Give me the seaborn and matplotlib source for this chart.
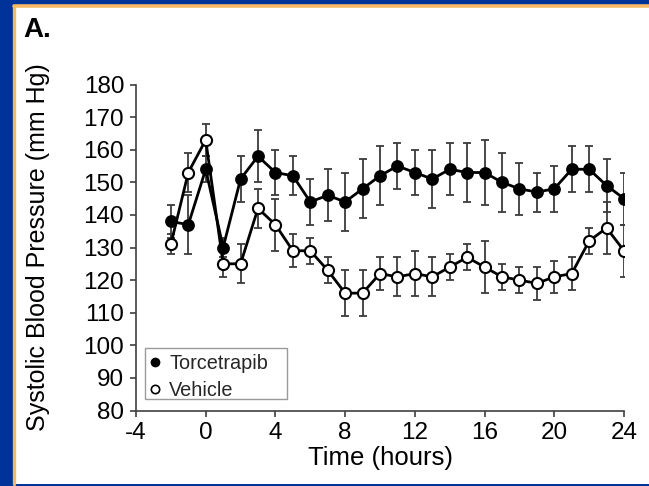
import matplotlib
matplotlib.use("Agg")
import matplotlib.pyplot as plt
from matplotlib.patches import Rectangle
from matplotlib.lines import Line2D
import seaborn as sns
import pandas as pd

# ---- data ----
times = [-2, -1, 0, 1, 2, 3, 4, 5, 6, 7, 8, 9, 10, 11, 12, 13, 14, 15, 16,
         17, 18, 19, 20, 21, 22, 23, 24]
torcetrapib = [138, 137, 154, 130, 151, 158, 153, 152, 144, 146, 144, 148, 152,
               155, 153, 151, 154, 153, 153, 150, 148, 147, 148, 154, 154, 149, 145]
torcetrapib_err = [5, 9, 4, 3, 7, 8, 7, 6, 7, 8, 9, 9, 9, 7, 7, 9, 8, 9, 10,
                   9, 8, 6, 7, 7, 7, 8, 8]
vehicle = [131, 153, 163, 125, 125, 142, 137, 129, 129, 123, 116, 116, 122,
           121, 122, 121, 124, 127, 124, 121, 120, 119, 121, 122, 132, 136, 129]
vehicle_err = [3, 6, 5, 4, 6, 6, 8, 5, 4, 4, 7, 7, 5, 6, 7, 6, 4, 4, 8,
               4, 4, 5, 5, 5, 4, 8, 8]
series_names = ["Torcetrapib", "Vehicle"]
x_ticks = [-4, 0, 4, 8, 12, 16, 20, 24]
y_ticks = [80, 90, 100, 110, 120, 130, 140, 150, 160, 170, 180]

df_t = pd.DataFrame({"time": times, "sbp": torcetrapib, "err": torcetrapib_err})
df_v = pd.DataFrame({"time": times, "sbp": vehicle, "err": vehicle_err})

sns.set_theme(style="white")
plt.rcParams["font.family"] = ["Liberation Sans", "DejaVu Sans"]
plt.rcParams["axes.unicode_minus"] = False

W, H = 649, 486
fig = plt.figure(figsize=(W / 100, H / 100), dpi=100)
fig.patch.set_facecolor("#003399")

# white slide panel with orange border (top & left)
panel = Rectangle((13.5 / W, (H - 484) / H), 1.0, (484 - 6.5) / H,
                  transform=fig.transFigure, facecolor="white",
                  edgecolor="none", zorder=-5)
fig.patches.append(panel)
fig.lines.append(Line2D([13.5 / W, 13.5 / W], [(H - 484) / H, (H - 6.5) / H],
                        transform=fig.transFigure, color="#F7B865", lw=2.4,
                        zorder=-4))
fig.lines.append(Line2D([13.5 / W, 1.0], [(H - 6.5) / H, (H - 6.5) / H],
                        transform=fig.transFigure, color="#F7B865", lw=2.6,
                        zorder=-4))

ax = fig.add_axes([136 / W, (H - 410.5) / H, 488 / W, 326 / H])
ax.set_facecolor("none")
ax.set_zorder(1)

# error bars
ax.errorbar(df_t["time"], df_t["sbp"], yerr=df_t["err"], fmt="none",
            ecolor="#3c3c3c", elinewidth=1.3, capsize=3.2, capthick=1.3, zorder=1)
ax.errorbar(df_v["time"], df_v["sbp"], yerr=df_v["err"], fmt="none",
            ecolor="#3c3c3c", elinewidth=1.3, capsize=3.2, capthick=1.3, zorder=1)

sns.lineplot(data=df_t, x="time", y="sbp", ax=ax, color="black", lw=2.0,
             marker="o", markersize=8, markerfacecolor="black",
             markeredgecolor="black", markeredgewidth=1.2, zorder=3,
             legend=False)
sns.lineplot(data=df_v, x="time", y="sbp", ax=ax, color="black", lw=2.0,
             marker="o", markersize=8, markerfacecolor="white",
             markeredgecolor="black", markeredgewidth=1.5, zorder=4,
             legend=False)

ax.set_xlim(-4, 24)
ax.set_ylim(80, 180)
ax.set_xticks(x_ticks)
ax.set_xticklabels([str(v) for v in x_ticks])
ax.set_yticks(y_ticks)
ax.set_yticklabels([str(v) for v in y_ticks])

for s in ["top", "right"]:
    ax.spines[s].set_visible(False)
for s in ["left", "bottom"]:
    ax.spines[s].set_color("#404040")
    ax.spines[s].set_linewidth(1.2)
ax.tick_params(axis="both", which="major", direction="out", length=4.5,
               width=1.2, color="#404040", labelsize=17.5, labelcolor="black",
               pad=4, left=True, bottom=True)

ax.set_xlabel("Time (hours)", fontsize=18.5, color="black", labelpad=1)
ax.set_ylabel("Systolic Blood Pressure (mm Hg)", fontsize=18, color="black")
ax.yaxis.set_label_coords(-0.176, 0.5)

# legend box (frame drawn separately to match the wider reference box)
ax.add_patch(Rectangle(((145 - 136) / 488, (410.5 - 399) / 326),
                       (287 - 145) / 488, (399 - 348) / 326,
                       transform=ax.transAxes, facecolor="white",
                       edgecolor="#9a9a9a", lw=1.0, zorder=5))
handles = [
    Line2D([], [], ls="none", marker="o", markersize=6, markerfacecolor="black",
           markeredgecolor="black", markeredgewidth=1.0),
    Line2D([], [], ls="none", marker="o", markersize=6, markerfacecolor="white",
           markeredgecolor="black", markeredgewidth=1.2),
]
leg = ax.legend(handles, series_names, loc="upper left",
                bbox_to_anchor=((145 - 136) / 488, (410.5 - 350) / 326),
                borderaxespad=0, fontsize=14.3, frameon=False,
                handlelength=0.6, handletextpad=0.42, labelspacing=0.42,
                borderpad=0.2)
leg.set_zorder(6)

fig.text(23 / W, (H - 37) / H, "A.", fontsize=20, fontweight="bold",
         color="black", ha="left", va="baseline")

fig.savefig("out.png", dpi=100, facecolor=fig.get_facecolor())
